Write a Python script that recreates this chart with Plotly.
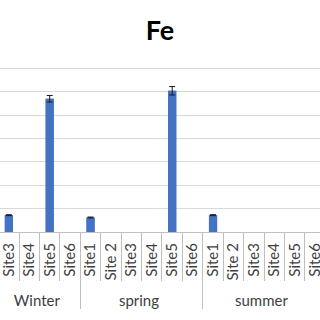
import plotly.graph_objects as go

seasons = ["Winter"] * 6 + ["spring"] * 6 + ["summer"] * 6
sites = ["Site1", "Site 2", "Site3", "Site4", "Site5", "Site6"] * 3
fe_values = [0, 0, 0.36, 0, 2.85, 0,
             0.31, 0, 0, 0, 3.02, 0,
             0.36, 0, 0, 0, 0, 0]
fe_errors = [0, 0, 0.01, 0, 0.07, 0,
             0.01, 0, 0, 0, 0.09, 0,
             0.01, 0, 0, 0, 0, 0]

# points that carry an error bar (non-zero measurements)
idx = [i for i, v in enumerate(fe_values) if v > 0]

fig = go.Figure()
fig.add_trace(go.Bar(
    x=[seasons, sites],
    y=fe_values,
    marker=dict(color="#4472C4", line=dict(width=0)),
))
fig.add_trace(go.Bar(
    x=[[seasons[i] for i in idx], [sites[i] for i in idx]],
    y=[fe_values[i] for i in idx],
    marker=dict(color="#4472C4", line=dict(width=0)),
    error_y=dict(type="data", array=[fe_errors[i] for i in idx], visible=True,
                 color="#1a1a1a", thickness=1, width=3),
))

plot_h = 164 * 3.55 / 3.5
fig.update_layout(
    width=320, height=320,
    margin=dict(l=0, r=0, t=320 - 88 - plot_h, b=88),
    paper_bgcolor="white", plot_bgcolor="white",
    bargap=0.6, barmode="overlay",
    showlegend=False,
    title=dict(text="<b>Fe</b>", x=0.5, xanchor="center", y=1 - 31 / 320,
               yanchor="middle", font=dict(family="Lato", size=27, color="#000000")),
    font=dict(family="Lato", color="#404040"),
)
fig.update_xaxes(
    type="multicategory",
    range=[1.565, 17.24],
    tickangle=-90,
    tickfont=dict(size=15, color="#404040"),
    ticklabelstandoff=4,
    showline=True, linecolor="#BFBFBF", linewidth=1,
    ticks="outside", tickson="boundaries", ticklen=48, tickcolor="#BFBFBF",
    showdividers=True, dividercolor="#BFBFBF", dividerwidth=1,
    showgrid=False,
)
fig.update_yaxes(
    range=[0, 3.55], dtick=0.5,
    showgrid=True, gridcolor="#D9D9D9", gridwidth=1,
    showticklabels=False, zeroline=False, showline=False,
)

fig.write_html("out.html")
